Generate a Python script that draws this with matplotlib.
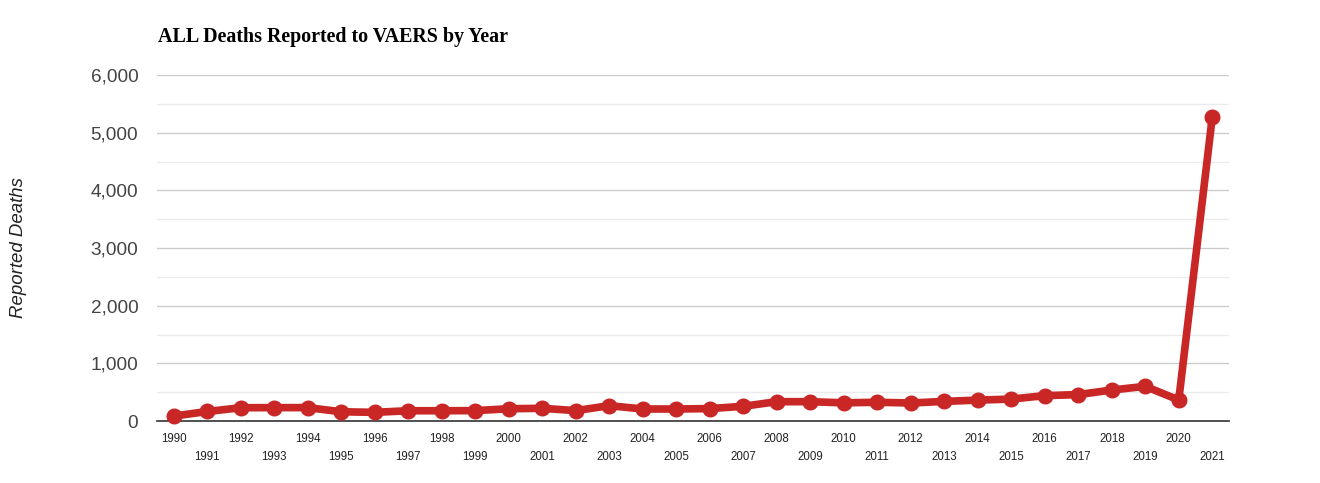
import matplotlib
matplotlib.use("Agg")
import matplotlib.pyplot as plt
from matplotlib.ticker import FuncFormatter, MultipleLocator, FixedLocator

years = list(range(1990, 2022))
deaths = [85, 165, 230, 232, 232, 160, 150, 178, 178, 180, 213, 220, 180, 266, 208, 208,
          215, 255, 335, 335, 315, 325, 312, 340, 362, 380, 440, 458, 537, 601, 364, 5269]
year_labels = [str(y) for y in years]
y_ticks = [0, 1000, 2000, 3000, 4000, 5000, 6000]

title = "ALL Deaths Reported to VAERS by Year"
ylabel = "Reported Deaths"
color = "#c92626"

fig = plt.figure(figsize=(13.2, 4.83), dpi=100)
ax = fig.add_axes([157/1320, 1 - 421/483, (1229-157)/1320, (421-75)/483])

x = list(range(len(years)))
ax.plot(x, deaths, color=color, lw=5.5, marker="o", ms=10.5, zorder=5,
        solid_joinstyle="round", solid_capstyle="round", clip_on=False)

ax.set_xlim(-0.5, len(years) - 0.5)
ax.set_ylim(0, 6000)

for s in ["top", "right", "left"]:
    ax.spines[s].set_visible(False)
ax.spines["bottom"].set_color("#333333")
ax.spines["bottom"].set_linewidth(1.2)
ax.spines["bottom"].set_zorder(4)

ax.yaxis.set_major_locator(FixedLocator(y_ticks))
ax.yaxis.set_minor_locator(MultipleLocator(500))
ax.yaxis.set_major_formatter(FuncFormatter(lambda v, p: f"{int(v):,}"))
ax.grid(axis="y", which="major", color="#cccccc", lw=1.0, zorder=0)
ax.grid(axis="y", which="minor", color="#ebebeb", lw=1.0, zorder=0)
ax.tick_params(axis="y", which="both", length=0, labelsize=13.7, labelcolor="#444444", pad=13.5)

even = [i for i in x if i % 2 == 0]
odd = [i for i in x if i % 2 == 1]
ax.xaxis.set_major_locator(FixedLocator(even))
ax.xaxis.set_major_formatter(FuncFormatter(lambda v, p: year_labels[int(round(v))]))
ax.xaxis.set_minor_locator(FixedLocator(odd))
ax.xaxis.set_minor_formatter(FuncFormatter(lambda v, p: year_labels[int(round(v))]))
ax.tick_params(axis="x", which="major", length=0, labelsize=8.3, labelcolor="#222222", pad=8.5)
ax.tick_params(axis="x", which="minor", length=0, labelsize=8.3, labelcolor="#222222", pad=21.5)
for lab in ax.get_xticklabels(which="both"):
    lab.set_family(["Liberation Sans Narrow", "Liberation Sans", "DejaVu Sans"])
for lab in ax.get_yticklabels():
    lab.set_family(["Liberation Sans", "DejaVu Sans"])

fig.text(158/1320, 1 - 37/483, title, fontsize=14.4, fontweight="bold",
         family=["Liberation Serif", "DejaVu Serif"], va="center", ha="left")
fig.text(19/1320, 1 - 248/483, ylabel, fontsize=13.4, style="italic", rotation=90,
         family=["Liberation Sans", "DejaVu Sans"], va="center", ha="center", color="#222222")

fig.savefig("out.png", dpi=100)
